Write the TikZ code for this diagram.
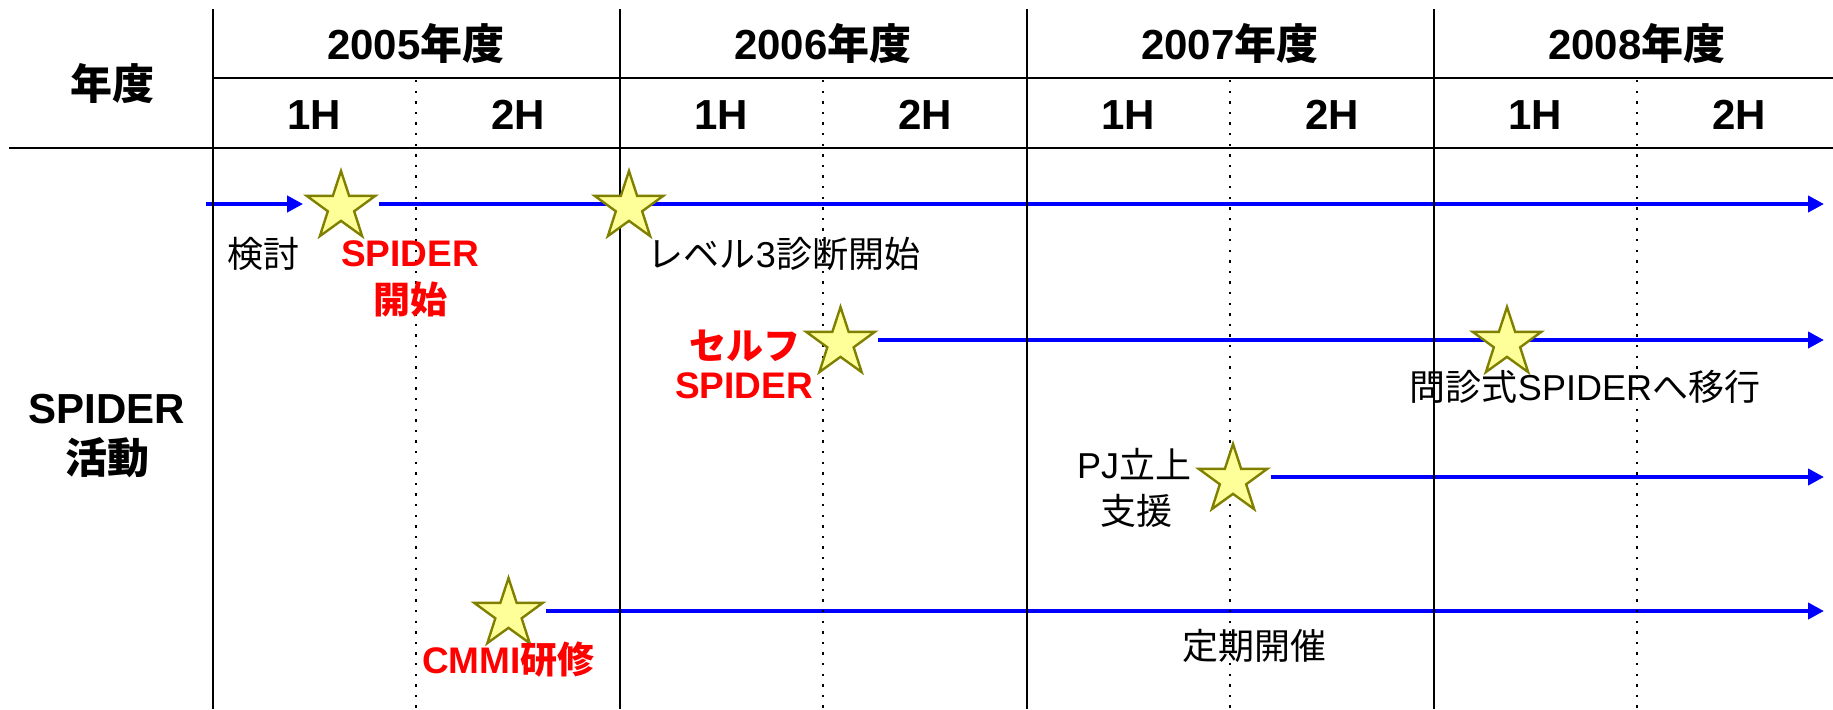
\documentclass[tikz,border=0pt]{standalone}
\usepackage{fontspec}
\setmainfont{Liberation Sans}
\newfontfamily\jp{Noto Sans CJK JP}
\usetikzlibrary{shapes.geometric,arrows.meta}
\definecolor{starfill}{HTML}{FFFF99}
\definecolor{staredge}{HTML}{808000}
\definecolor{arrblue}{HTML}{0000FF}
\definecolor{lblred}{HTML}{FF0000}
\pgfdeclarelayer{bg}
\pgfsetlayers{bg,main}
\begin{document}
\begin{tikzpicture}[x=0.5pt,y=-0.5pt,
  grid/.style={black, line width=1pt},
  half/.style={black, line width=1.2pt, dash pattern=on 1.2pt off 4.1pt},
  head/.style={font=\fontsize{21}{25}\selectfont\bfseries, inner sep=0pt},
  sub/.style={font=\fontsize{21}{25}\selectfont\bfseries, inner sep=0pt},
  lbl/.style={font=\fontsize{18}{22}\selectfont, inner sep=0pt},
  rlbl/.style={font=\fontsize{18.5}{22}\selectfont\bfseries, text=lblred, inner sep=0pt},
  mstar/.style={star, star points=5, star point ratio=2.6, minimum size=36pt, inner sep=0pt, fill=starfill, draw=staredge, line width=1.2pt},
  flow/.style={arrblue, line width=2pt},
  tip/.style={-{Triangle[length=8pt,width=8pt]}}
]
\useasboundingbox (0,0) rectangle (1833,709);

% header texts
\node[head] (hdr) at (112,84) {\jp 年度};
\node[head] (y05) at (416,44) {2005{\jp 年度}};
\node[head] (y06) at (823,44) {2006{\jp 年度}};
\node[head] (y07) at (1230,44) {2007{\jp 年度}};
\node[head] (y08) at (1637,44) {2008{\jp 年度}};
\node[sub] (h1) at (314,115) {1H};
\node[sub] (h2) at (518,115) {2H};
\node[sub] (h3) at (721,115) {1H};
\node[sub] (h4) at (925,115) {2H};
\node[sub] (h5) at (1128,115) {1H};
\node[sub] (h6) at (1332,115) {2H};
\node[sub] (h7) at (1535,115) {1H};
\node[sub] (h8) at (1739,115) {2H};
\node[head] (act1) at (107,409) {SPIDER};
\node[head] (act2) at (107,458) {\jp 活動};

% stars
\node[mstar] (s1) at (341,207) {};
\node[mstar] (s2) at (629,207) {};
\node[mstar] (s3) at (840.5,343) {};
\node[mstar] (s4) at (1507,343) {};
\node[mstar] (s5) at (1233,480) {};
\node[mstar] (s6) at (508.5,614) {};

\coordinate (r1s) at (206,204);
\coordinate (r1e) at (1824,204);
\coordinate (r2e) at (1824,340);
\coordinate (r3e) at (1824,477);
\coordinate (r4e) at (1824,611);

\begin{pgfonlayer}{bg}
\draw[flow,tip] (r1s) -- (s1.outer point 2 |- r1s);
\draw[flow,tip] (s1.outer point 5 |- r1e) -- (r1e);
\draw[flow,tip] (s3.outer point 5 |- r2e) -- (r2e);
\draw[flow,tip] (s5.outer point 5 |- r3e) -- (r3e);
\draw[flow,tip] (s6.outer point 5 |- r4e) -- (r4e);
% grid
\foreach \x in {213,620,1027,1434} \draw[grid] (\x,9) -- (\x,709);
\foreach \x in {416,823,1230,1637} \draw[half] (\x,80) -- (\x,709);
\draw[grid] (213,78) -- (1833,78);
\draw[grid] (9,148) -- (1833,148);
\end{pgfonlayer}

% labels
\node[lbl] (l1) at (263,254) {\jp 検討};
\node[rlbl] (l2a) at (410,254) {SPIDER};
\node[rlbl] (l2b) at (410,300) {\jp\bfseries 開始};
\node[lbl] (l3) at (784,254) {{\jp レベル}3{\jp 診断開始}};
\node[rlbl] (l4a) at (745,346) {\jp\bfseries セルフ};
\node[rlbl] (l4b) at (744,386) {SPIDER};
\node[lbl] (l5) at (1585,387) {{\jp 問診式}SPIDER{\jp へ移行}};
\node[lbl] (l6a) at (1134,464) {PJ{\jp 立上}};
\node[lbl] (l6b) at (1136,511) {\jp 支援};
\node[rlbl] (l7) at (508.5,660) {CMMI{\jp\bfseries 研修}};
\node[lbl] (l8) at (1254,646) {\jp 定期開催};
\end{tikzpicture}
\end{document}
